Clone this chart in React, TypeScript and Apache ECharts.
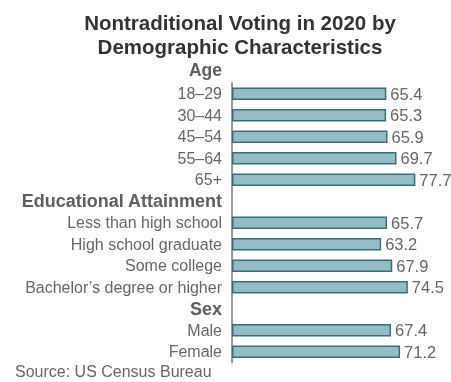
import React, { useEffect, useRef } from "react";
import * as echarts from "echarts";

const categories = [
  "18–29",
  "30–44",
  "45–54",
  "55–64",
  "65+",
  "Educational Attainment",
  "Less than high school",
  "High school graduate",
  "Some college",
  "Bachelor’s degree or higher",
  "Sex",
  "Male",
  "Female",
];
const headers = ["Educational Attainment", "Sex"];
const values: (number | null)[] = [
  65.4, 65.3, 65.9, 69.7, 77.7, null, 65.7, 63.2, 67.9, 74.5, null, 67.4, 71.2,
];
const titleText = "Nontraditional Voting in 2020 by\nDemographic Characteristics";
const firstHeader = "Age";
const sourceText = "Source: US Census Bureau";

const FONT = "Liberation Sans, Arial, sans-serif";

export default function App() {
  const ref = useRef<HTMLDivElement>(null);
  useEffect(() => {
    if (!ref.current) return;
    const chart = echarts.init(ref.current, undefined, { renderer: "svg" });
    chart.setOption({
      animation: false,
      textStyle: { fontFamily: FONT },
      title: {
        text: titleText,
        left: 235,
        top: 6,
        textAlign: "center",
        textStyle: {
          fontFamily: FONT,
          fontSize: 20.5,
          fontWeight: "bold",
          color: "#333",
          lineHeight: 23.5,
        },
      },
      grid: { left: 232, top: 83, height: 279.5, width: 212.4 },
      xAxis: {
        type: "value",
        min: 0,
        max: 90,
        show: false,
      },
      yAxis: {
        type: "category",
        inverse: true,
        data: categories,
        axisLine: { show: true, lineStyle: { color: "#777", width: 1.5 } },
        axisTick: { show: false },
        axisLabel: {
          margin: 10,
          fontSize: 16,
          color: "#666",
          fontFamily: FONT,
          formatter: (v: string) => (headers.includes(v) ? `{h|${v}}` : v),
          rich: {
            h: {
              fontSize: 18,
              fontWeight: "bold",
              color: "#5e5e5e",
              fontFamily: FONT,
            },
          },
        },
      },
      series: [
        {
          type: "bar",
          data: values,
          barWidth: 12.5,
          itemStyle: {
            color: "#93bcc4",
            borderColor: "#3b6d75",
            borderWidth: 1.5,
          },
          label: {
            show: true,
            position: "right",
            distance: 4,
            fontSize: 16.5,
            color: "#666",
            fontFamily: FONT,
          },
        },
      ],
      graphic: [
        {
          type: "text",
          right: 451 - 222,
          top: 61,
          style: {
            text: firstHeader,
            fontSize: 17.5,
            fontWeight: "bold",
            fill: "#5e5e5e",
            fontFamily: FONT,
          },
        },
        {
          type: "text",
          left: 15,
          top: 363,
          style: {
            text: sourceText,
            fontSize: 16,
            fill: "#666",
            fontFamily: FONT,
          },
        },
      ],
    });
    return () => chart.dispose();
  }, []);
  return (
    <div
      ref={ref}
      style={{ position: "fixed", left: 0, top: 0, width: 451, height: 382 }}
    />
  );
}
